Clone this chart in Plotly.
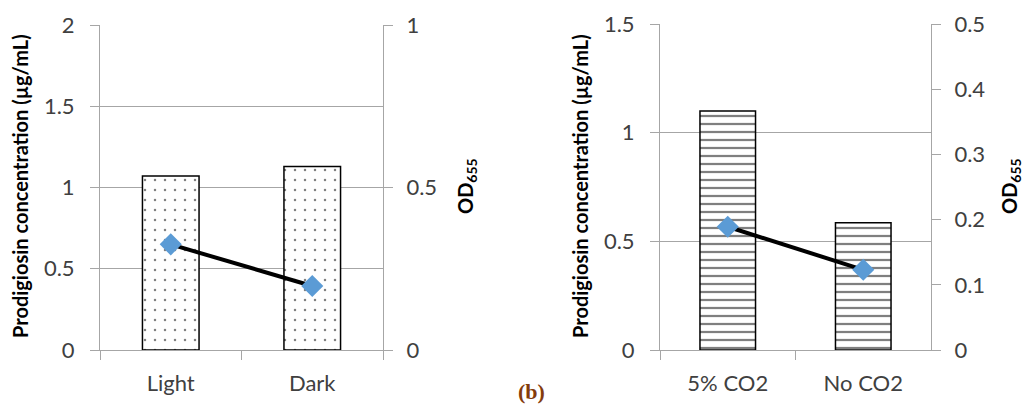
import plotly.graph_objects as go

OFF = 8  # page body margin offset in the browser
W, H = 1033 - 2 * OFF, 414 - 2 * OFF

# ---- data ----
conditions_a = ["Light", "Dark"]
prodigiosin_a = [1.07, 1.13]
od_a = [0.325, 0.197]

conditions_b = ["5% CO2", "No CO2"]
prodigiosin_b = [1.10, 0.585]
od_b = [0.189, 0.123]

GRID = "#a6a6a6"
TICKC = "#404040"
FONT = "Lato"
MARK = "#5B9BD5"


def fx(px):
    return (px - OFF) / W


def fy(py):
    return (H - (py - OFF)) / H


fig = go.Figure()

fig.add_trace(go.Bar(
    x=conditions_a, y=prodigiosin_a, xaxis="x", yaxis="y", width=0.4,
    marker=dict(color="white", line=dict(color="black", width=1.5),
                pattern=dict(shape=".", fgcolor="black", bgcolor="white", size=10, solidity=0.05)),
    showlegend=False, hoverinfo="skip"))
fig.add_trace(go.Scatter(
    x=conditions_a, y=od_a, xaxis="x", yaxis="y2", mode="lines+markers",
    line=dict(color="black", width=4),
    marker=dict(symbol="diamond", size=17, color=MARK),
    showlegend=False, hoverinfo="skip"))

fig.add_trace(go.Bar(
    x=conditions_b, y=prodigiosin_b, xaxis="x2", yaxis="y3", width=0.41,
    marker=dict(color="white", line=dict(color="black", width=1.5),
                pattern=dict(shape="-", fgcolor="black", bgcolor="white", size=8, solidity=0.28)),
    showlegend=False, hoverinfo="skip"))
fig.add_trace(go.Scatter(
    x=conditions_b, y=od_b, xaxis="x2", yaxis="y4", mode="lines+markers",
    line=dict(color="black", width=4),
    marker=dict(symbol="diamond", size=17, color=MARK),
    showlegend=False, hoverinfo="skip"))

tickfont = dict(family=FONT, size=22, color=TICKC)

xcommon = dict(type="category", range=[-0.5, 1.5], tickson="boundaries", ticks="outside",
               ticklen=9, tickcolor=GRID, showline=True, linecolor=GRID, linewidth=1,
               showgrid=False, zeroline=False, tickfont=tickfont, fixedrange=True,
               ticklabelstandoff=14, automargin=False)
ycommon = dict(ticks="outside", ticklen=9, tickcolor=GRID, showline=True, linecolor=GRID,
               linewidth=1, zeroline=False, tickfont=tickfont, fixedrange=True,
               automargin=False)

fig.update_layout(
    width=W, height=H, margin=dict(l=0, r=0, t=0, b=0, pad=0), autosize=False,
    paper_bgcolor="white", plot_bgcolor="white",
    xaxis=dict(domain=[fx(100), fx(383)], anchor="y", **xcommon),
    yaxis=dict(domain=[fy(350), fy(25)], anchor="x", range=[0, 2], dtick=0.5, tick0=0,
               showgrid=True, gridcolor=GRID, gridwidth=1, ticklabelstandoff=11, **ycommon),
    yaxis2=dict(overlaying="y", side="right", anchor="x", range=[0, 1], dtick=0.5, tick0=0,
                showgrid=False, ticklabelstandoff=9, **ycommon),
    xaxis2=dict(domain=[fx(660), fx(931)], anchor="y3", **xcommon),
    yaxis3=dict(domain=[fy(350), fy(24)], anchor="x2", range=[0, 1.5], dtick=0.5, tick0=0,
                showgrid=True, gridcolor=GRID, gridwidth=1, ticklabelstandoff=11, **ycommon),
    yaxis4=dict(overlaying="y3", side="right", anchor="x2", range=[0, 0.5], dtick=0.1, tick0=0,
                showgrid=False, ticklabelstandoff=9, **ycommon),
)

title_font = dict(family=FONT, size=20, color="black")
ytitle = "<b>Prodigiosin concentration (µg/mL)</b>"
odtitle = "<b>OD<sub>655</sub></b>"

annos = [
    dict(x=fx(20), y=fy(186), text=ytitle, textangle=-90),
    dict(x=fx(466), y=fy(186), text=odtitle, textangle=-90),
    dict(x=fx(580), y=fy(186), text=ytitle, textangle=-90),
    dict(x=fx(1010), y=fy(186), text=odtitle, textangle=-90),
]
for a in annos:
    fig.add_annotation(xref="paper", yref="paper", showarrow=False, xanchor="center",
                       yanchor="middle", font=title_font, **a)

fig.add_annotation(xref="paper", yref="paper", x=fx(531), y=fy(406), showarrow=False,
                   text="<b>(b)</b>", xanchor="center", yanchor="bottom",
                   font=dict(family="Liberation Serif", size=22, color="#843C0C"))

fig.write_html("out.html")
